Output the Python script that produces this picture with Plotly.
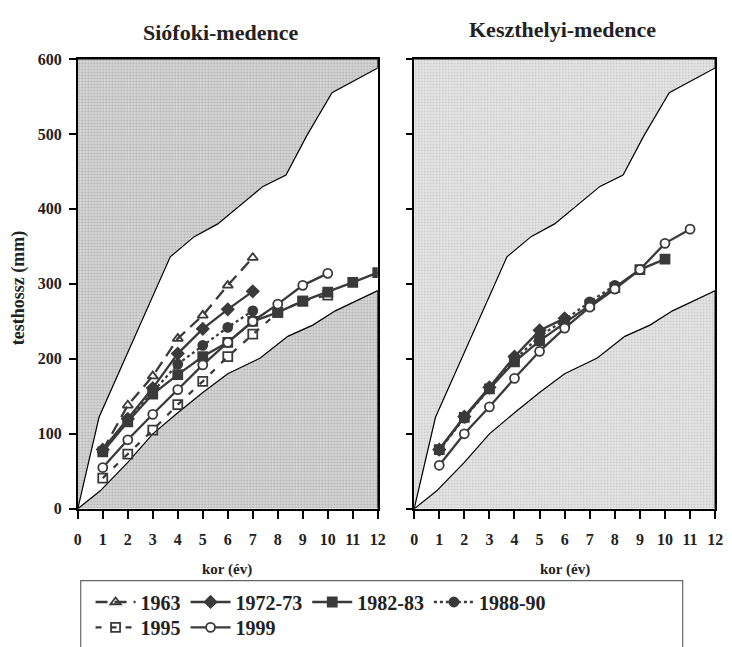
import plotly.graph_objects as go

# ---------------- data ----------------
ages = list(range(1, 13))

# Siófoki-medence
sio_1963 = [78, 138, 177, 227, 258, 298, 335]
sio_1972 = [79, 120, 161, 207, 240, 266, 290]
sio_1982 = [76, 116, 153, 179, 203, 222, 250, 262, 277, 289, 302, 315]
sio_1988 = [78, 117, 156, 193, 218, 242, 264]
sio_1995 = [41, 73, 105, 139, 170, 203, 233, 262, 277, 285]
sio_1999 = [55, 92, 126, 159, 192, 222, 250, 273, 298, 314]

# Keszthelyi-medence
kesz_1972 = [79, 123, 162, 203, 238, 254]
kesz_1982 = [79, 122, 160, 196, 224, 248, 272, 295, 319, 333]
kesz_1988 = [78, 121, 160, 199, 230, 252, 276, 298]
kesz_1999 = [58, 100, 136, 174, 210, 241, 269, 293, 319, 354, 373]

# envelope curves (upper and lower limits)
upper_x = [0, 0.85, 3.7, 4.66, 5.6, 6.76, 7.41, 8.33, 9.15, 10.17, 12]
upper_y = [0, 122, 336, 363, 380, 412, 430, 445, 497, 555, 588]
lower_x = [0, 0.9, 2, 3, 4, 5, 6, 7.3, 8.4, 9.4, 10.3, 12]
lower_y = [0, 24, 62, 100, 128, 155, 180, 201, 230, 245, 264, 291]

x_ticks = list(range(0, 13))
y_ticks = [0, 100, 200, 300, 400, 500, 600]
panel_titles = ["Siófoki-medence", "Keszthelyi-medence"]
x_title = "kor (év)"
y_title = "testhossz (mm)"

# ---------------- styling ----------------
W, H = 732, 647
FONT = "Liberation Serif"
INK = "#3a3a3a"

styles = {
    "1963": dict(dash="12px,7px", symbol="triangle-up-open", fill=INK, legend="legend"),
    "1972-73": dict(dash="solid", symbol="diamond", fill=INK, legend="legend"),
    "1982-83": dict(dash="solid", symbol="square", fill=INK, legend="legend"),
    "1988-90": dict(dash="dot", symbol="circle", fill=INK, legend="legend"),
    "1995": dict(dash="6px,9px", symbol="square-open", fill=INK, legend="legend2"),
    "1999": dict(dash="solid", symbol="circle", fill="white", legend="legend2"),
}

panels = [
    dict(xa="x", ya="y", shade_bg="#d6d6d6", shade_fg="#8a8a8a",
         series=[("1963", sio_1963), ("1972-73", sio_1972), ("1982-83", sio_1982),
                 ("1988-90", sio_1988), ("1995", sio_1995), ("1999", sio_1999)]),
    dict(xa="x2", ya="y2", shade_bg="#e6e6e6", shade_fg="#a8a8a8",
         series=[("1972-73", kesz_1972), ("1982-83", kesz_1982),
                 ("1988-90", kesz_1988), ("1999", kesz_1999)]),
]

fig = go.Figure()

for pi, p in enumerate(panels):
    pattern = dict(shape=".", bgcolor=p["shade_bg"], fgcolor=p["shade_fg"],
                   size=3, solidity=0.3)
    # upper shaded region
    fig.add_trace(go.Scatter(
        x=upper_x + [12, 0], y=upper_y + [600, 600],
        xaxis=p["xa"], yaxis=p["ya"], mode="lines", fill="toself",
        fillcolor=p["shade_bg"], fillpattern=pattern,
        line=dict(color="black", width=1.2), showlegend=False, hoverinfo="skip"))
    # lower shaded region
    fig.add_trace(go.Scatter(
        x=lower_x + [12], y=lower_y + [0],
        xaxis=p["xa"], yaxis=p["ya"], mode="lines", fill="toself",
        fillcolor=p["shade_bg"], fillpattern=pattern,
        line=dict(color="black", width=1.2), showlegend=False, hoverinfo="skip"))

for pi, p in enumerate(panels):
    for name, vals in p["series"]:
        st = styles[name]
        fig.add_trace(go.Scatter(
            x=ages[:len(vals)], y=vals, name=name,
            xaxis=p["xa"], yaxis=p["ya"], mode="lines+markers",
            line=dict(color=INK, width=2.3, dash=st["dash"]),
            marker=dict(symbol=st["symbol"], size=9, color=st["fill"],
                        line=dict(color=INK, width=1.8)),
            legend=st["legend"], legendgroup=name, showlegend=(pi == 0)))

x1 = [75 / W, 380 / W]
x2 = [417 / W, 723 / W]
ydom = [1 - 514.3 / H, 1 - 52.3 / H]

axis_common = dict(showgrid=False, zeroline=False, showline=True, linecolor="black",
                   linewidth=1.5, mirror=True, ticks="outside", tickcolor="black",
                   tickwidth=1.5)
tickfont = dict(family=FONT, size=16, color="#222", weight="bold")
legend_font = dict(family=FONT, size=20, color="#222", weight="bold")
legend_common = dict(orientation="h", xanchor="left", yanchor="top", borderwidth=0,
                     bgcolor="rgba(0,0,0,0)", font=legend_font, itemwidth=40,
                     traceorder="normal")

fig.update_layout(
    width=W, height=H,
    margin=dict(l=0, r=0, t=0, b=0),
    paper_bgcolor="white", plot_bgcolor="white",
    xaxis=dict(domain=x1, anchor="y", range=[0, 12], tickvals=x_ticks, ticklen=8,
               tickfont=tickfont, ticklabelstandoff=7, **axis_common),
    yaxis=dict(domain=ydom, anchor="x", range=[0, 600], tickvals=y_ticks, ticklen=7,
               tickfont=tickfont, ticklabelstandoff=4, **axis_common),
    xaxis2=dict(domain=x2, anchor="y2", range=[0, 12], tickvals=x_ticks, ticklen=8,
                tickfont=tickfont, ticklabelstandoff=7, **axis_common),
    yaxis2=dict(domain=ydom, anchor="x2", range=[0, 600], tickvals=y_ticks, ticklen=6,
                showticklabels=False, **axis_common),
    legend=dict(x=88 / W, y=1 - 590 / H, **legend_common),
    legend2=dict(x=88 / W, y=1 - 616 / H, **legend_common),
    showlegend=True,
    shapes=[dict(type="rect", xref="paper", yref="paper",
                 x0=78 / W, x1=690 / W, y0=1 - 660 / H, y1=1 - 588 / H,
                 line=dict(color="#666", width=1.2), fillcolor="rgba(0,0,0,0)",
                 layer="below")],
)

ann_font = dict(family=FONT, size=22, color="#222", weight="bold")
xlab_font = dict(family=FONT, size=15, color="#222", weight="bold")
ylab_font = dict(family=FONT, size=18, color="#222", weight="bold")
common = dict(xref="paper", yref="paper", showarrow=False, xanchor="center", yanchor="middle")
fig.add_annotation(text=panel_titles[0], x=220 / W, y=1 - 25 / H, font=ann_font, **common)
fig.add_annotation(text=panel_titles[1], x=568 / W, y=1 - 22 / H, font=ann_font, **common)
fig.add_annotation(text=x_title, x=227 / W, y=1 - 577 / H, font=xlab_font, **common)
fig.add_annotation(text=x_title, x=570 / W, y=1 - 577 / H, font=xlab_font, **common)
fig.add_annotation(text=y_title, x=15 / W, y=1 - 288 / H, textangle=-90, font=ylab_font, **common)

fig.write_html("out.html")
